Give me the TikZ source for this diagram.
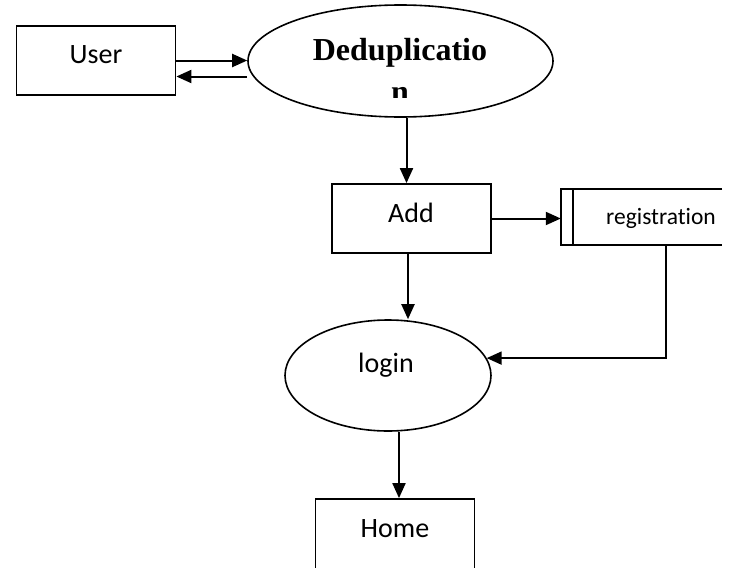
\documentclass[tikz,border=0pt]{standalone}
\usepackage{fontspec}
\setmainfont{Liberation Serif}
\newfontfamily\carlito[Ligatures=NoCommon]{Carlito}
\usetikzlibrary{arrows.meta,shapes.geometric}

\tikzset{
  box/.style={draw, line width=1.8pt, minimum width=159pt, minimum height=69pt, inner sep=0pt},
  oval/.style={draw, ellipse, line width=1.6pt, inner sep=0pt},
  txt/.style={font=\carlito\fontsize{28}{34}\selectfont, inner sep=0pt, anchor=base},
  headtxt/.style={font=\bfseries\fontsize{32}{38}\selectfont, inner sep=0pt, anchor=base},
  flow/.style={line width=2pt, -{Triangle[length=15pt,width=13pt]}}
}

\begin{document}
\begin{tikzpicture}[x=1pt,y=-1pt]

\useasboundingbox (0,0) rectangle (729,568);

\node[box] (user) at (96,60.5) {};
\node[txt] (usertxt) at (96,63) {User};

\node[oval, minimum width=305pt, minimum height=112pt] (dedup) at (400.5,61) {};
\begin{scope}
\clip (248,5) rectangle (553,97);
\node[headtxt] (deduptxt) at (400,60) {Deduplicatio};
\node[headtxt] (deduptxt2) at (400,102) {n};
\end{scope}

\node[box] (add) at (411.5,218.5) {};
\node[txt] (addtxt) at (411,222) {Add};

\node[inner sep=0pt, minimum width=161pt, minimum height=56pt] (reg) at (641.5,217) {};
\draw[line width=1.8pt] (reg.north east) -- (reg.north west) -- (reg.south west) -- (reg.south east);
\draw[line width=1.8pt] ([xshift=12pt]reg.north west) -- ([xshift=12pt]reg.south west);
\begin{scope}
\clip (561,189) rectangle (722,233);
\node[txt, font=\carlito\fontsize{23.5}{28}\selectfont] (regtxt) at (661,224) {registration};
\end{scope}

\node[oval, minimum width=206pt, minimum height=111pt] (login) at (388,375.5) {};
\node[txt] (logintxt) at (386,372) {login};

\node[box, minimum height=71pt] (home) at (395,534.5) {};
\node[txt] (hometxt) at (395,537) {Home};

\draw[flow] (user.east) -- (user.east -| dedup.west);
\draw[flow] ([yshift=-16pt]user.east -| dedup.west) -- ([yshift=-16pt]user.east);
\draw[flow] ([xshift=6pt]dedup.south) -- ([xshift=6pt]dedup.south |- add.north);
\draw[flow] (add.east) -- (add.east -| reg.west);
\draw[flow] ([xshift=-3.5pt]add.south) -- ([xshift=-3.5pt]add.south |- login.north);
\draw[flow] ([xshift=24.5pt]reg.south) |- (login.10);
\draw[flow] ([xshift=11pt]login.south) -- ([xshift=11pt]login.south |- home.north);

\end{tikzpicture}
\end{document}
